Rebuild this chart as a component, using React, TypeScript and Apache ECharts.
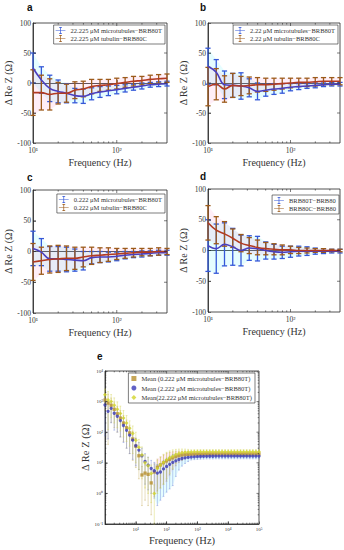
import React, { useEffect, useRef } from "react";
import * as echarts from "echarts";

// ---------- data ----------
const FREQ = [10, 12.59, 15.85, 19.95, 25.12, 31.62, 39.81, 50.12, 63.1, 79.43, 100, 125.9, 158.5, 199.5, 251.2, 316.2, 398.1];

const A_NAMES = ["22.225 μM microtubules−BRB80T", "22.225 μM tubulin−BRB80C"];
const A_MT = [25, 5, -9, -14, -17, -21, -22, -18, -15, -13, -11, -9, -7, -5, -3, -2, -1];
const A_MT_ERR = [25, 22, 22, 19, 16, 12, 12, 10, 9, 8, 7, 6, 5, 5, 4, 4, 4];
const A_TU = [-16, -16, -19, -17, -17, -12, -10, -6, -4, -3, -1, 1, 3, 4, 6, 7, 8];
const A_TU_ERR = [38, 29, 26, 18, 15, 14, 13, 12, 10, 9, 9, 8, 8, 7, 7, 7, 7];

const B_NAMES = ["2.22 μM microtubules−BRB80T", "2.22 μM tubulin−BRB80C"];
const B_MT = [28, 18, -3, -4, -5, -8, -14, -12, -10, -9, -7, -6, -5, -4, -3, -2, -2];
const B_MT_ERR = [30, 21, 23, 20, 22, 15, 14, 10, 9, 8, 6, 5, 4, 4, 3, 3, 3];
const B_TU = [-6, -2, -10, -4, -5, -4, -3, -3, -2, -1, 0, 1, 1, 2, 3, 3, 3];
const B_TU_ERR = [32, 26, 22, 20, 16, 14, 12, 11, 10, 9, 8, 7, 7, 7, 6, 6, 6];

const C_NAMES = ["0.222 μM microtubules−BRB80T", "0.222 μM tubulin−BRB80C"];
const C_MT = [5, -1, -12, -12, -13, -14, -15, -10, -9, -9, -8, -6, -5, -4, -3, -2, -2];
const C_MT_ERR = [28, 22, 20, 20, 20, 18, 15, 10, 9, 8, 7, 6, 5, 5, 4, 4, 4];
const C_TU = [-17, -15, -13, -12, -11, -11, -9, -7, -6, -5, -4, -3, -2, -1, -1, 0, 0];
const C_TU_ERR = [30, 22, 22, 22, 20, 18, 16, 14, 12, 11, 9, 8, 7, 6, 6, 6, 5];

const D_NAMES = ["BRB80T−BRB80", "BRB80C−BRB80"];
const D_MT = [8, 3, 10, 6, 0, 4, 3, 0, -2, -3, -2, -1, -1, -1, -1, -1, -1];
const D_MT_ERR = [42, 40, 35, 30, 25, 20, 20, 14, 12, 10, 9, 8, 7, 5, 4, 3, 3];
const D_TU = [45, 33, 27, 20, 12, 8, 5, 3, 2, 1, 1, 0, 0, 0, 0, 0, 0];
const D_TU_ERR = [28, 22, 20, 15, 14, 13, 12, 10, 9, 8, 6, 5, 4, 3, 3, 2, 2];

const FREQ_E = [1, 1.259, 1.585, 1.995, 2.512, 3.162, 3.981, 5.012, 6.31, 7.943, 10, 12.59, 15.85, 19.95, 25.12, 31.62, 39.81, 50.12, 63.1, 79.43, 100, 125.9, 158.5, 199.5, 251.2, 316.2, 398.1, 501.2, 631, 794.3, 1000, 1259, 1585, 1995, 2512, 3162, 3981, 5012, 6310, 7943, 10000, 12589, 15849, 19953, 25119, 31623, 39811, 50119, 63096, 79433, 100000];
const E_NAMES = ["Mean (0.222 μM microtubules−BRB80T)", "Mean (2.222 μM microtubules−BRB80T)", "Mean(22.222 μM microtubules−BRB80T)"];
const E_022 = [1120, 890, 760, 560, 400, 290, 200, 140, 95, 60, 35, 17, 4.0, 4.6, 4.2, 2.2, 5.0, 7.2, 8.5, 10, 11.5, 13, 14.5, 16, 17.2, 18, 18.6, 18.9, 19.1, 19.2, 19.3, 19.4, 19.4, 19.5, 19.5, 19.5, 19.5, 19.5, 19.5, 19.5, 19.5, 19.5, 19.5, 19.5, 19.5, 19.5, 19.5, 19.5, 19.5, 19.5, 19.5];
const E_022_ERR = [600, 850, 550, 420, 300, 220, 150, 110, 75, 48, 28, 14, 3.6, 4.0, 3.8, 2.0, 4.2, 6, 7, 8, 9, 9, 8.5, 8, 7, 6, 5, 4, 3.5, 3.5, 3.5, 3.5, 3.5, 3.5, 3.5, 3.5, 3.5, 3.5, 3.5, 3.5, 3.5, 3.5, 3.5, 3.5, 3.5, 3.5, 3.5, 3.5, 3.5, 3.5, 3.5];
const E_222 = [776, 480, 603, 417, 331, 240, 166, 115, 80, 55, 36, 26, 17, 11, 8.3, 6.5, 5.5, 4.6, 5.0, 6.3, 7.6, 8.9, 10.3, 11.6, 12.8, 13.8, 14.5, 15.0, 15.4, 15.7, 15.9, 16.1, 16.2, 16.3, 16.4, 16.4, 16.5, 16.5, 16.5, 16.5, 16.5, 16.5, 16.5, 16.5, 16.5, 16.5, 16.5, 16.5, 16.5, 16.5, 16.5];
const E_222_ERR = [700, 420, 400, 300, 230, 170, 120, 85, 60, 42, 28, 20, 13, 9, 7, 5.5, 4.8, 4.2, 4.4, 5.5, 6.5, 7.5, 8.5, 8, 7, 6, 5, 4, 3, 3, 3, 3, 3, 3, 3, 3, 3, 3, 3, 3, 3, 3, 3, 3, 3, 3, 3, 3, 3, 3, 3];
const E_22222 = [1660, 1120, 1000, 760, 560, 410, 290, 200, 135, 90, 55, 32, 18, 10, 8, 4.5, 1.0, 6.5, 8.5, 10.5, 12.5, 14.5, 16.5, 18.5, 20, 21.2, 22, 22.4, 22.6, 22.8, 22.9, 23, 23, 23, 23, 23, 23, 23, 23, 23, 23, 23, 23, 23, 23, 23, 23, 23, 23, 23, 23];
const E_22222_ERR = [900, 1000, 700, 560, 420, 300, 220, 150, 100, 70, 45, 26, 15, 8.5, 7, 4, 0.9, 5.5, 7, 8.5, 9.5, 10, 10, 9, 8, 7, 6, 5, 4, 4, 4, 4, 4, 4, 4, 4, 4, 4, 4, 4, 4, 4, 4, 4, 4, 4, 4, 4, 4, 4, 4];

const Y_AD = { min: -100, max: 100, interval: 50 };
const MINOR_AD = [20, 30, 40, 50, 60, 70, 80, 90, 200, 300];

// ---------- styles ----------
const SERIF = "Liberation Serif";
const SANS = "Liberation Sans";
const AX = "#262626";
const TXT = "#333333";
const BLUE_LINE = "#4a3fbf";
const BLUE_BAR = "#3558d8";
const BROWN_LINE = "#b23a22";
const BROWN_BAR = "#9c5a1a";
const PINK = "rgba(255,90,180,0.10)";
const CYAN = "rgba(40,240,255,0.12)";
const EB_ICON = "path://M0,9h28v2h-28z M13,0h2v20h-2z M10,0h8v2h-8z M10,18h8v2h-8z";

const SUP: Record<string, string> = { "-": "⁻", "0": "⁰", "1": "¹", "2": "²", "3": "³", "4": "⁴", "5": "⁵" };
const sup = (n: number) => String(n).split("").map((c) => SUP[c] || c).join("");
const logLabel = (hideZero: boolean) => (v: number) => {
  const e = Math.log10(v);
  const r = Math.round(e);
  if (Math.abs(e - r) > 1e-6) return "";
  if (hideZero && r === 0) return "";
  return "10" + sup(r);
};

function errorBarSeries(idx: number, xs: number[], v: number[], err: number[], color: string, lw: number, cap: number, floor?: number) {
  return {
    type: "custom",
    xAxisIndex: idx,
    yAxisIndex: idx,
    silent: true,
    z: 3,
    data: xs.map((x, i) => {
      let lo = v[i] - err[i];
      if (floor !== undefined) lo = Math.max(lo, floor);
      return [x, lo, v[i] + err[i]];
    }),
    renderItem: (params: any, api: any) => {
      const x = api.value(0);
      const p1 = api.coord([x, api.value(2)]);
      const p2 = api.coord([x, api.value(1)]);
      const st = { stroke: color, lineWidth: lw };
      return {
        type: "group",
        children: [
          { type: "line", shape: { x1: p1[0], y1: p1[1], x2: p2[0], y2: p2[1] }, style: st },
          { type: "line", shape: { x1: p1[0] - cap, y1: p1[1], x2: p1[0] + cap, y2: p1[1] }, style: st },
          { type: "line", shape: { x1: p2[0] - cap, y1: p2[1], x2: p2[0] + cap, y2: p2[1] }, style: st },
        ],
      };
    },
  };
}

function bandSeries(idx: number, xs: number[], v: number[], err: number[], color: string, floor?: number, from = 0) {
  const data: number[][] = [];
  const lo = (k: number) => (floor !== undefined ? Math.max(v[k] - err[k], floor) : v[k] - err[k]);
  for (let i = from; i < xs.length - 1; i++) {
    data.push([xs[i], lo(i), v[i] + err[i], xs[i + 1], lo(i + 1), v[i + 1] + err[i + 1]]);
  }
  return {
    type: "custom",
    xAxisIndex: idx,
    yAxisIndex: idx,
    silent: true,
    z: 1,
    data,
    renderItem: (params: any, api: any) => {
      const a = api.coord([api.value(0), api.value(2)]);
      const b = api.coord([api.value(3), api.value(5)]);
      const c = api.coord([api.value(3), api.value(4)]);
      const d = api.coord([api.value(0), api.value(1)]);
      return { type: "polygon", shape: { points: [a, b, c, d] }, style: { fill: color } };
    },
  };
}

function xTickSeries(idx: number, xs: number[], anchorY: number, len: number) {
  return {
    type: "custom",
    xAxisIndex: idx,
    yAxisIndex: idx,
    silent: true,
    z: 5,
    data: xs.map((x) => [x, anchorY]),
    renderItem: (params: any, api: any) => {
      const cs = params.coordSys;
      const x = api.coord([api.value(0), anchorY])[0];
      const st = { stroke: AX, lineWidth: 0.6 };
      return {
        type: "group",
        children: [
          { type: "line", shape: { x1: x, y1: cs.y + cs.height, x2: x, y2: cs.y + cs.height - len }, style: st },
          { type: "line", shape: { x1: x, y1: cs.y, x2: x, y2: cs.y + len }, style: st },
        ],
      };
    },
  };
}

function yTickSeries(idx: number, ys: number[], anchorX: number, len: number) {
  return {
    type: "custom",
    xAxisIndex: idx,
    yAxisIndex: idx,
    silent: true,
    z: 5,
    data: ys.map((y) => [anchorX, y]),
    renderItem: (params: any, api: any) => {
      const cs = params.coordSys;
      const y = api.coord([anchorX, api.value(1)])[1];
      const st = { stroke: AX, lineWidth: 0.6 };
      return {
        type: "group",
        children: [
          { type: "line", shape: { x1: cs.x, y1: y, x2: cs.x + len, y2: y }, style: st },
          { type: "line", shape: { x1: cs.x + cs.width, y1: y, x2: cs.x + cs.width - len, y2: y }, style: st },
        ],
      };
    },
  };
}

const GRIDS = [
  { left: 33, top: 23, width: 134, height: 120 },
  { left: 208, top: 23, width: 132, height: 120 },
  { left: 33, top: 190, width: 134, height: 123 },
  { left: 208, top: 189, width: 132, height: 123 },
  { left: 105, top: 371, width: 154, height: 153 },
];

const LEGEND_POS = [
  { right: 179, top: 25 },
  { right: 6, top: 25 },
  { right: 179, top: 194 },
  { right: 5, top: 195 },
];

function buildOption() {
  const panels = [
    { names: A_NAMES, mt: A_MT, mtErr: A_MT_ERR, tu: A_TU, tuErr: A_TU_ERR },
    { names: B_NAMES, mt: B_MT, mtErr: B_MT_ERR, tu: B_TU, tuErr: B_TU_ERR },
    { names: C_NAMES, mt: C_MT, mtErr: C_MT_ERR, tu: C_TU, tuErr: C_TU_ERR },
    { names: D_NAMES, mt: D_MT, mtErr: D_MT_ERR, tu: D_TU, tuErr: D_TU_ERR },
  ];

  const grid = GRIDS.map((g) => ({ ...g, show: true, borderColor: AX, borderWidth: 0.8, backgroundColor: "#fff", containLabel: false }));

  const xAxis: any[] = [];
  const yAxis: any[] = [];
  const series: any[] = [];
  const legend: any[] = [];

  panels.forEach((p, idx) => {
    xAxis.push({
      type: "log",
      gridIndex: idx,
      min: 10,
      max: 398.1,
      name: "Frequency (Hz)",
      nameLocation: "middle",
      nameGap: 14,
      nameTextStyle: { fontFamily: SERIF, fontSize: 10, color: TXT, fontWeight: "normal" },
      axisLine: { show: true, lineStyle: { color: AX, width: 0.8 } },
      axisTick: { show: true, inside: true, length: 3, lineStyle: { color: AX, width: 0.6 } },
      axisLabel: { formatter: logLabel(false), fontFamily: SERIF, fontSize: 7.5, color: TXT, margin: 3, showMaxLabel: false },
      splitLine: { show: false },
    });
    yAxis.push({
      type: "value",
      gridIndex: idx,
      min: Y_AD.min,
      max: Y_AD.max,
      interval: Y_AD.interval,
      name: "Δ Re Z (Ω)",
      nameLocation: "middle",
      nameGap: 17,
      nameTextStyle: { fontFamily: SERIF, fontSize: 10, color: TXT, fontWeight: "normal" },
      axisLine: { show: true, lineStyle: { color: AX, width: 0.8 } },
      axisTick: { show: true, inside: true, length: 3, lineStyle: { color: AX, width: 0.6 } },
      axisLabel: { fontFamily: SERIF, fontSize: 7.5, color: TXT, margin: 2 },
      splitLine: { show: false },
    });

    series.push(bandSeries(idx, FREQ, p.mt, p.mtErr, CYAN));
    series.push(bandSeries(idx, FREQ, p.tu, p.tuErr, PINK));
    series.push(errorBarSeries(idx, FREQ, p.mt, p.mtErr, BLUE_BAR, 1.3, 2.6));
    series.push(errorBarSeries(idx, FREQ, p.tu, p.tuErr, BROWN_BAR, 1.3, 2.6));
    series.push({
      type: "line",
      name: p.names[0],
      xAxisIndex: idx,
      yAxisIndex: idx,
      data: FREQ.map((f, i) => [f, p.mt[i]]),
      showSymbol: false,
      smooth: 0.4,
      color: BLUE_LINE,
      lineStyle: { width: 1.6, color: BLUE_LINE },
      z: 4,
    });
    series.push({
      type: "line",
      name: p.names[1],
      xAxisIndex: idx,
      yAxisIndex: idx,
      data: FREQ.map((f, i) => [f, p.tu[i]]),
      showSymbol: false,
      smooth: 0.4,
      color: BROWN_LINE,
      lineStyle: { width: 1.6, color: BROWN_LINE },
      z: 4,
    });
    series.push(xTickSeries(idx, MINOR_AD, 0, 1.6));
    series.push(xTickSeries(idx, [100], 0, 3));
    series.push(yTickSeries(idx, [-50, 0, 50], 10, 3));

    legend.push({
      ...LEGEND_POS[idx],
      orient: "vertical",
      data: [
        { name: p.names[0], icon: EB_ICON, itemStyle: { color: BLUE_BAR } },
        { name: p.names[1], icon: EB_ICON, itemStyle: { color: BROWN_BAR } },
      ],
      itemWidth: 14,
      itemHeight: 7,
      itemGap: 1,
      padding: [2, 3, 2, 2],
      borderColor: AX,
      borderWidth: 0.6,
      borderRadius: 0,
      backgroundColor: "#fff",
      selectedMode: false,
      textStyle: { fontFamily: SERIF, fontSize: 6.5, color: TXT, padding: [0, 0, 0, -2] },
    });
  });

  // panel e
  const ei = 4;
  xAxis.push({
    type: "log",
    gridIndex: ei,
    min: 1,
    max: 100000,
    name: "Frequency (Hz)",
    nameLocation: "middle",
    nameGap: 11,
    nameTextStyle: { fontFamily: SERIF, fontSize: 10.5, color: TXT, fontWeight: "normal" },
    axisLine: { show: true, lineStyle: { color: AX, width: 0.8 } },
    axisTick: { show: true, inside: true, length: 2.5, lineStyle: { color: AX, width: 0.6 } },
    axisLabel: { formatter: logLabel(true), fontFamily: SERIF, fontSize: 5, color: TXT, margin: 3 },
    splitLine: { show: false },
  });
  yAxis.push({
    type: "log",
    gridIndex: ei,
    min: 0.1,
    max: 10000,
    name: "Δ Re Z (Ω)",
    nameLocation: "middle",
    nameGap: 12,
    nameTextStyle: { fontFamily: SERIF, fontSize: 10.5, color: TXT, fontWeight: "normal" },
    axisLine: { show: true, lineStyle: { color: AX, width: 0.8 } },
    axisTick: { show: true, inside: true, length: 2.5, lineStyle: { color: AX, width: 0.6 } },
    axisLabel: { formatter: logLabel(false), fontFamily: SERIF, fontSize: 5, color: TXT, margin: 2 },
    splitLine: { show: false },
  });

  const minorX: number[] = [];
  for (let d = 1; d <= 10000; d *= 10) for (let k = 2; k <= 9; k++) minorX.push(k * d);
  const minorY: number[] = [];
  for (let d = 0.1; d <= 1000; d *= 10) for (let k = 2; k <= 9; k++) minorY.push(k * d);

  series.push(bandSeries(ei, FREQ_E, E_222, E_222_ERR, CYAN, 0.1, 16));
  series.push(bandSeries(ei, FREQ_E, E_022, E_022_ERR, PINK, 0.1, 16));
  const eSets = [
    { name: E_NAMES[0], v: E_022, err: E_022_ERR, color: "#b8902e", bar: "rgba(190,160,70,0.7)", symbol: "rect" },
    { name: E_NAMES[1], v: E_222, err: E_222_ERR, color: "#3a3ab8", bar: "rgba(90,110,210,0.7)", symbol: "circle" },
    { name: E_NAMES[2], v: E_22222, err: E_22222_ERR, color: "#d2d42a", bar: "rgba(210,210,80,0.8)", symbol: "diamond" },
  ];
  eSets.forEach((s) => {
    series.push(errorBarSeries(ei, FREQ_E, s.v, s.err, s.bar, 0.5, 0.9, 0.1));
  });
  eSets.forEach((s) => {
    series.push({
      type: "scatter",
      name: s.name,
      xAxisIndex: ei,
      yAxisIndex: ei,
      data: FREQ_E.map((f, i) => [f, s.v[i]]),
      symbol: s.symbol,
      symbolSize: s.symbol === "diamond" ? 4 : 3.3,
      itemStyle: { color: s.color },
      z: 4,
    });
  });
  series.push(xTickSeries(ei, minorX, 1, 1.3));
  series.push(xTickSeries(ei, [10, 100, 1000, 10000], 1, 2.5));
  series.push(yTickSeries(ei, minorY, 1, 1.3));
  series.push(yTickSeries(ei, [1, 10, 100, 1000], 1, 2.5));

  legend.push({
    right: 89,
    top: 373,
    orient: "vertical",
    data: eSets.map((s) => ({ name: s.name, icon: s.symbol, itemStyle: { color: s.color } })),
    itemWidth: 5,
    itemHeight: 5,
    itemGap: 2.5,
    padding: [2, 3, 2, 3],
    borderColor: AX,
    borderWidth: 0.6,
    backgroundColor: "#fff",
    selectedMode: false,
    textStyle: { fontFamily: SERIF, fontSize: 6.5, color: TXT },
  });

  const letters = [
    { t: "a", x: 27, y: 2 },
    { t: "b", x: 200, y: 2 },
    { t: "c", x: 27, y: 172 },
    { t: "d", x: 200, y: 171 },
    { t: "e", x: 97, y: 351 },
  ];

  return {
    animation: false,
    backgroundColor: "#fff",
    textStyle: { fontFamily: SERIF },
    grid,
    xAxis,
    yAxis,
    series,
    legend,
    graphic: letters.map((l) => ({
      type: "text",
      left: l.x,
      top: l.y,
      style: { text: l.t, font: `bold 10px ${SANS}`, fill: "#111" },
    })),
  };
}

export default function App() {
  const ref = useRef<HTMLDivElement>(null);
  useEffect(() => {
    document.body.style.margin = "0";
    if (!ref.current) return;
    const chart = echarts.init(ref.current, undefined, { renderer: "svg" });
    chart.setOption(buildOption() as any);
    return () => chart.dispose();
  }, []);
  return <div ref={ref} style={{ width: 344, height: 550 }} />;
}
